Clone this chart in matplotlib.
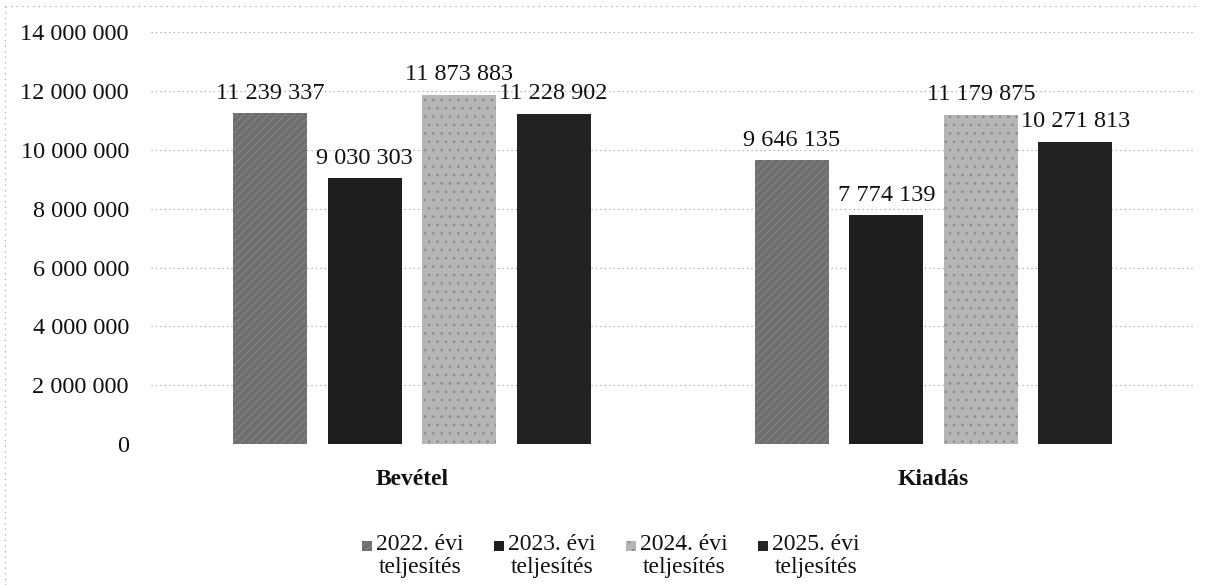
import matplotlib
matplotlib.use("Agg")
import matplotlib.pyplot as plt
import numpy as np
from matplotlib.ticker import FuncFormatter, MultipleLocator
from matplotlib.patches import Rectangle

categories = ["Bevétel", "Kiadás"]
series_line1 = ["2022. évi", "2023. évi", "2024. évi", "2025. évi"]
series_line2 = ["teljesítés", "teljesítés", "teljesítés", "teljesítés"]
v2022 = [11239337, 9646135]
v2023 = [9030303, 7774139]
v2024 = [11873883, 11179875]
v2025 = [11228902, 10271813]
series_values = [v2022, v2023, v2024, v2025]
colors = ["#6f6f6f", "#1e1e1e", "#b6b6b6", "#222222"]
hatches = ["////", "", "..", ""]
hatch_colors = ["#8c8c8c", "#1e1e1e", "#8a8a8a", "#222222"]

plt.rcParams['font.family'] = ['Liberation Serif', 'DejaVu Serif']
plt.rcParams['hatch.linewidth'] = 0.6

fig = plt.figure(figsize=(12.09, 5.85), dpi=100)
ax = fig.add_axes([0.125, 0.241, 0.863, 0.704])

x = np.arange(len(categories))
step = 0.181
width = 0.142
for i, (vals, col) in enumerate(zip(series_values, colors)):
    pos = x + (i - 1.5) * step
    bars = ax.bar(pos, vals, width=width, color=col, zorder=3,
                  hatch=hatches[i], edgecolor=hatch_colors[i], linewidth=0)
    for b, v in zip(bars, vals):
        ax.annotate(f"{v:,}".replace(",", " "),
                    (b.get_x() + b.get_width() / 2, v),
                    xytext=(0, 7), textcoords="offset points",
                    ha="center", va="bottom", fontsize=17.5, color="#111111", zorder=4)

ax.set_xlim(-0.5, 1.5)
ax.set_ylim(0, 14000000)
ax.yaxis.set_major_locator(MultipleLocator(2000000))
ax.yaxis.set_major_formatter(FuncFormatter(lambda v, p: f"{int(v):,}".replace(",", " ")))
ax.grid(axis="y", linestyle=(0, (1, 3)), color="#999999", linewidth=0.8, zorder=0)
for s in ax.spines.values():
    s.set_visible(False)
ax.tick_params(axis="y", length=0, labelsize=17.5, pad=16, colors="#111111")
ax.tick_params(axis="x", length=0, pad=18)
ax.set_xticks(x)
ax.set_xticklabels(categories, fontsize=17, fontweight="bold", color="#111111")

# legend: marker beside first line, second line centred below
leg_x0 = 362
leg_dx = 132
for i in range(4):
    mx = (leg_x0 + i * leg_dx) / 1209
    fig.add_artist(Rectangle((mx, 1 - 551 / 585), 10 / 1209, 10 / 585,
                             transform=fig.transFigure, facecolor=colors[i],
                             hatch=hatches[i], edgecolor=hatch_colors[i], linewidth=0))
    tx = mx + 14 / 1209
    t1 = fig.text(tx, 1 - 545 / 585, series_line1[i], ha="left", va="center",
                  fontsize=17, color="#111111")
    fig.text(tx + 44 / 1209, 1 - 568 / 585, series_line2[i], ha="center", va="center",
             fontsize=17, color="#111111")

# scan border (dotted)
fig.add_artist(plt.Line2D([0.004, 0.004], [0.0, 0.99], transform=fig.transFigure,
                          linestyle=(0, (1, 4)), color="#999999", linewidth=0.8))
fig.add_artist(plt.Line2D([0.004, 0.99], [0.99, 0.99], transform=fig.transFigure,
                          linestyle=(0, (1, 4)), color="#999999", linewidth=0.8))

fig.savefig("out.png", dpi=100)
